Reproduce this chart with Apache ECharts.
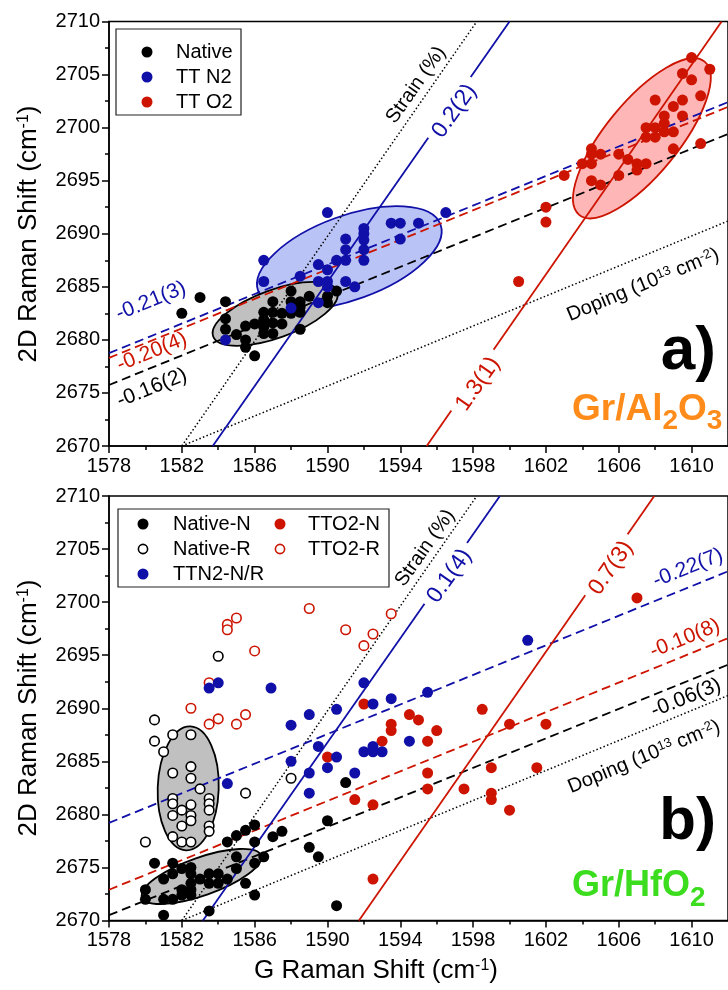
<!DOCTYPE html>
<html><head><meta charset="utf-8">
<script src="https://cdn.jsdelivr.net/npm/echarts@6/dist/echarts.min.js"></script>
<style>html,body{margin:0;padding:0;background:#fff}#c{width:728px;height:990px}</style>
</head><body><div id="c"></div>
<script>
// ---------- tick values ----------
const xMajor = [1578,1582,1586,1590,1594,1598,1602,1606,1610];
const xMinor = [1580,1584,1588,1592,1596,1600,1604,1608];
const yRange = [2670, 2710];

// ---------- panel a) Gr/Al2O3 ----------
const nativeA = [[1582.0,2682.5],[1583.0,2684.0],[1584.4,2683.6],[1584.4,2682.0],[1584.4,2681.0],[1585.0,2680.5],[1585.5,2681.3],[1585.5,2680.0],[1585.5,2679.3],[1586.0,2678.5],[1586.0,2681.5],[1586.5,2682.6],[1586.5,2681.9],[1586.5,2681.2],[1586.5,2680.6],[1587.0,2683.6],[1587.0,2682.6],[1587.0,2681.6],[1587.0,2680.6],[1587.5,2682.5],[1587.5,2681.5],[1588.0,2684.6],[1588.0,2683.6],[1588.0,2682.5],[1588.5,2683.6],[1588.5,2683.1],[1588.5,2682.6],[1588.5,2681.0],[1589.0,2684.1],[1590.0,2684.1],[1590.0,2683.5],[1590.5,2684.6]];
const ttN2A = [[1584.4,2680.0],[1586.5,2687.5],[1586.5,2685.5],[1588.0,2683.0],[1588.5,2686.0],[1589.5,2687.1],[1589.5,2685.5],[1589.5,2683.5],[1590.0,2692.0],[1590.0,2686.6],[1590.0,2685.5],[1590.0,2685.0],[1590.5,2687.5],[1591.0,2689.5],[1591.0,2688.5],[1591.0,2687.5],[1591.0,2685.5],[1591.5,2685.0],[1592.0,2690.5],[1592.0,2690.0],[1592.0,2689.4],[1592.0,2688.5],[1592.0,2687.5],[1593.5,2691.0],[1594.0,2691.0],[1594.0,2689.5],[1595.0,2691.0],[1596.5,2692.0]];
const ttO2A = [[1610.0,2706.6],[1611.0,2705.5],[1609.5,2705.1],[1610.0,2704.5],[1610.5,2703.0],[1608.0,2702.6],[1609.5,2702.6],[1609.0,2702.0],[1608.5,2701.1],[1609.5,2701.1],[1608.5,2700.4],[1607.5,2700.0],[1608.0,2700.0],[1608.5,2699.6],[1609.0,2699.6],[1607.5,2699.1],[1608.0,2699.1],[1610.5,2698.5],[1609.0,2698.0],[1604.5,2698.0],[1604.5,2697.5],[1605.0,2697.5],[1606.0,2697.5],[1606.5,2697.0],[1604.0,2696.6],[1604.5,2696.6],[1607.0,2696.6],[1607.5,2696.6],[1603.0,2695.5],[1607.0,2696.0],[1606.0,2695.5],[1604.5,2695.0],[1605.0,2694.6],[1602.0,2692.5],[1602.0,2691.1],[1600.5,2685.5]];
// straight guide / fit lines (end points)
const strainLine = [[1582,2670],[1598.2,2710]];
const dopingLine = [[1582,2670],[1612,2691.2]];
const fitNativeA = [[1578,2675.75],[1612,2699.4]];
const fitN2A = [[1578,2678.75],[1612,2702.4]];
const fitO2A = [[1578,2678.3],[1612,2701.95]];
const slopeN2A = [[1583.7,2670],[1600.0,2710]];
const slopeO2A = [[1595.45,2670],[1611.65,2710]];

// ---------- panel b) Gr/HfO2 ----------
const nativeNB = [[1580.5,2675.4],[1580.0,2672.9],[1580.0,2672.0],[1581.0,2673.9],[1581.0,2672.0],[1581.0,2670.5],[1581.5,2675.4],[1581.5,2674.4],[1581.5,2672.0],[1582.0,2674.9],[1582.0,2672.9],[1582.0,2672.4],[1582.5,2675.0],[1582.5,2674.4],[1582.5,2673.5],[1582.5,2672.9],[1582.5,2672.4],[1583.0,2673.9],[1583.5,2674.4],[1583.5,2673.5],[1583.5,2670.9],[1584.0,2674.4],[1584.0,2673.5],[1584.5,2677.4],[1584.5,2673.9],[1585.0,2678.0],[1585.0,2676.0],[1585.0,2674.9],[1585.5,2678.5],[1585.5,2673.5],[1586.0,2679.0],[1586.0,2677.4],[1586.0,2675.4],[1586.0,2672.4],[1586.5,2676.0],[1587.0,2677.9],[1587.5,2678.4],[1589.0,2676.9],[1589.5,2676.0],[1590.0,2679.4],[1590.5,2671.4],[1591.0,2683.0]];
const nativeRB = [[1580.5,2688.9],[1580.5,2686.9],[1581.0,2685.9],[1581.5,2687.5],[1582.5,2687.5],[1581.5,2683.9],[1582.5,2684.5],[1582.5,2683.4],[1583.0,2682.4],[1581.5,2681.5],[1581.5,2681.0],[1581.5,2679.9],[1582.0,2680.4],[1582.0,2678.9],[1582.5,2680.9],[1582.5,2679.9],[1582.5,2679.4],[1583.5,2681.5],[1583.5,2681.0],[1583.5,2680.4],[1583.5,2678.9],[1583.5,2678.4],[1581.5,2677.9],[1582.0,2677.4],[1582.5,2677.4],[1580.0,2677.4],[1585.5,2682.0],[1588.0,2683.4],[1584.0,2694.9]];
const ttN2B = [[1583.5,2691.9],[1584.0,2692.4],[1584.5,2682.9],[1586.9,2691.9],[1588.0,2688.4],[1588.0,2685.0],[1589.0,2689.4],[1589.0,2683.9],[1589.0,2682.0],[1589.5,2686.4],[1590.0,2684.4],[1590.5,2689.9],[1590.5,2685.4],[1591.5,2683.9],[1592.0,2692.4],[1592.0,2685.9],[1592.5,2690.4],[1592.5,2686.4],[1592.5,2685.9],[1593.0,2685.9],[1593.5,2690.9],[1594.5,2686.9],[1595.5,2691.5],[1601.0,2696.4]];
const ttO2NB = [[1590.0,2685.4],[1591.5,2681.4],[1592.0,2690.4],[1592.5,2680.9],[1592.5,2673.9],[1593.0,2686.9],[1593.5,2688.5],[1593.5,2687.9],[1594.5,2689.4],[1595.0,2688.9],[1595.5,2686.9],[1595.5,2683.9],[1595.5,2682.4],[1596.0,2687.9],[1597.5,2682.4],[1598.5,2689.9],[1599.0,2684.4],[1599.0,2682.0],[1599.0,2681.4],[1600.0,2688.5],[1600.0,2680.4],[1601.5,2684.4],[1602.0,2688.5],[1607.0,2700.4]];
const ttO2RB = [[1582.5,2690.0],[1583.5,2692.4],[1583.5,2688.5],[1584.0,2689.0],[1584.5,2697.9],[1584.5,2697.4],[1585.0,2698.5],[1585.0,2688.5],[1585.5,2689.4],[1586.0,2695.4],[1589.0,2699.4],[1591.0,2697.4],[1592.0,2695.9],[1592.5,2697.0],[1593.5,2698.9]];
const fitNativeB = [[1578,2670.5],[1612,2694.1]];
const fitN2B = [[1578,2679.2],[1612,2702.9]];
const fitO2B = [[1578,2672.9],[1612,2696.6]];
const slopeN2B = [[1583.16,2670],[1599.47,2710]];
const slopeO2B = [[1591.73,2670],[1607.95,2710]];

// ellipse centres (data units)
const ellCentersA = {gray:[1587.13,2682.45], blue:[1591.2,2687.74], red:[1607.27,2699.0]};
const ellCentersB = {vert:[1582.35,2682.45], tilt:[1583.08,2674.15]};

// ---------- styles ----------
const FONT = '"Liberation Sans", Arial, sans-serif';
const BLK = '#000000', BLU = '#1010a8', RED = '#cc1400';

const chart = echarts.init(document.getElementById('c'), null, {renderer:'canvas'});
const plain = v => String(v);

function xAxes(g, showLabel) {
  return [
    {gridIndex:g, type:'value', min:1578, max:1612, interval:2, position:'bottom',
     axisLine:{show:true, onZero:false, lineStyle:{color:BLK, width:1.5}},
     axisTick:{show:true, customValues:xMajor, length:7, inside:false, lineStyle:{color:BLK, width:1.5}},
     axisLabel:{show:showLabel, customValues:xMajor, color:BLK, fontSize:20, fontFamily:FONT, margin:10, formatter:plain},
     splitLine:{show:false}},
    {gridIndex:g, type:'value', min:1578, max:1612, interval:2, position:'bottom',
     axisLine:{show:false, onZero:false},
     axisTick:{show:true, customValues:xMinor, length:4, inside:false, lineStyle:{color:BLK, width:1.5}},
     axisLabel:{show:false}, splitLine:{show:false}}
  ];
}
function yAxis(g) {
  return {gridIndex:g, type:'value', min:yRange[0], max:yRange[1], interval:5,
    axisLine:{show:true, onZero:false, lineStyle:{color:BLK, width:1.5}},
    axisTick:{show:true, length:7, lineStyle:{color:BLK, width:1.5}},
    minorTick:{show:true, splitNumber:2, length:4, lineStyle:{color:BLK, width:1.5}},
    axisLabel:{color:BLK, fontSize:20, fontFamily:FONT, margin:9, formatter:plain},
    splitLine:{show:false}, minorSplitLine:{show:false}};
}
function dots(data, color, xi, yi, open) {
  return {type:'scatter', xAxisIndex:xi, yAxisIndex:yi, data, symbol:'circle',
    symbolSize: open ? 9.5 : 11, silent:true, z:5,
    itemStyle: open ? {color:'#ffffff', borderColor:color, borderWidth:1.6, opacity:1}
                    : {color:color, borderWidth:0, opacity:1}};
}
function seg(data, color, type, width, xi, yi) {
  return {type:'line', xAxisIndex:xi, yAxisIndex:yi, data, symbol:'none', showSymbol:false,
    lineStyle:{color, width, type}, silent:true, z:3, clip:true};
}
const DASH = [9,5], DOT = [1.5,2.3];

const option = {
  animation:false,
  grid:[
    {left:109, top:21.5, width:626, height:424.5, show:true, borderColor:BLK, borderWidth:1.5, backgroundColor:'transparent'},
    {left:109, top:496, width:626, height:424.5, show:true, borderColor:BLK, borderWidth:1.5, backgroundColor:'transparent'}
  ],
  xAxis:[...xAxes(0,true), ...xAxes(1,true)],
  yAxis:[yAxis(0), yAxis(1)],
  series:[
    seg(strainLine, BLK, DOT, 1.5, 0, 0),
    seg(dopingLine, BLK, DOT, 1.5, 0, 0),
    seg(fitNativeA, BLK, DASH, 1.8, 0, 0),
    seg(fitO2A, RED, DASH, 1.8, 0, 0),
    seg(fitN2A, BLU, DASH, 1.8, 0, 0),
    seg(slopeN2A, BLU, 'solid', 1.8, 0, 0),
    seg(slopeO2A, RED, 'solid', 1.8, 0, 0),
    dots(nativeA, BLK, 0, 0, false),
    dots(ttN2A, BLU, 0, 0, false),
    dots(ttO2A, RED, 0, 0, false),

    seg(strainLine, BLK, DOT, 1.5, 2, 1),
    seg(dopingLine, BLK, DOT, 1.5, 2, 1),
    seg(fitNativeB, BLK, DASH, 1.8, 2, 1),
    seg(fitO2B, RED, DASH, 1.8, 2, 1),
    seg(fitN2B, BLU, DASH, 1.8, 2, 1),
    seg(slopeN2B, BLU, 'solid', 1.8, 2, 1),
    seg(slopeO2B, RED, 'solid', 1.8, 2, 1),
    dots(nativeNB, BLK, 2, 1, false),
    dots(nativeRB, BLK, 2, 1, true),
    dots(ttO2RB, RED, 2, 1, true),
    dots(ttO2NB, RED, 2, 1, false),
    dots(ttN2B, BLU, 2, 1, false)
  ]
};
chart.setOption(option);

// ---------- graphics (ellipses, labels, legends) ----------
const PA = p => chart.convertToPixel({xAxisIndex:0, yAxisIndex:0}, p);
const PB = p => chart.convertToPixel({xAxisIndex:2, yAxisIndex:1}, p);
const rad = d => d * Math.PI / 180;
function ell(c, rx, ry, rot, fill, stroke) {
  return {type:'ellipse', x:c[0], y:c[1], rotation:rad(rot), shape:{cx:0, cy:0, rx, ry},
    style:{fill, stroke, lineWidth:1.8}, z:1, silent:true};
}
function txt(x, y, text, opts) {
  opts = opts || {};
  return {type:'text', x, y, rotation:rad(opts.rot || 0), z:opts.z || 50, silent:true,
    style:Object.assign({text, fill:opts.color || BLK, fontSize:opts.size || 20, fontFamily:FONT,
      fontWeight:opts.weight || 'normal', align:opts.align || 'center', verticalAlign:opts.va || 'middle'},
      opts.bg ? {backgroundColor:'#ffffff', padding:[0,7]} : {}, opts.rich ? {rich:opts.rich} : {})};
}
function dot(x, y, color, open) {
  return {type:'circle', shape:{cx:x, cy:y, r: open ? 4.6 : 5.5}, z:60, silent:true,
    style: open ? {fill:'#fff', stroke:color, lineWidth:1.6} : {fill:color}};
}
const supRich = s => ({sup:{fontSize:s, verticalAlign:'top', fontFamily:FONT, fill:BLK}});

const g = [];
// ellipses top
g.push(ell(PA(ellCentersA.blue), 97, 42, 20, '#bac3f6', BLU));
g.push(ell(PA(ellCentersA.gray), 66, 24, 20, '#c0c0c0', BLK));
g.push(ell(PA(ellCentersA.red), 99, 36.5, 50.7, '#ffb6b6', RED));
// ellipses bottom
g.push(ell(PB(ellCentersB.vert), 30.5, 62, -2, '#c0c0c0', BLK));
g.push(ell(PB(ellCentersB.tilt), 63, 19, 19.4, '#c0c0c0', BLK));

// panel a labels
g.push(txt(416, 85, 'Strain (%)', {rot:55, size:20}));
g.push(txt(643, 285, 'Doping (10{sup|13} cm{sup|-2})', {rot:22.5, size:20, rich:supRich(13)}));
g.push(txt(454.5, 111, '0.2(2)', {rot:54.7, size:23, color:BLU, bg:true}));
g.push(txt(478, 384, '1.3(1)', {rot:55, size:23, color:RED, bg:true}));
g.push(txt(151, 301, '-0.21(3)', {rot:22, size:21, color:BLU}));
g.push(txt(152, 352, '-0.20(4)', {rot:22, size:21, color:RED}));
g.push(txt(152, 388, '-0.16(2)', {rot:22, size:21, color:BLK}));
g.push(txt(716, 352, 'a)', {size:62, weight:'bold', align:'right'}));
g.push(txt(572, 411, '{b|Gr/Al}{s|2}{b|O}{s|3}', {align:'left', color:'#ff8c1a',
  rich:{b:{fontSize:37, fontWeight:'bold', fontFamily:FONT, fill:'#ff8c1a', lineHeight:40, verticalAlign:'top'},
        s:{fontSize:28, fontWeight:'bold', fontFamily:FONT, fill:'#ff8c1a', lineHeight:28, verticalAlign:'top', padding:[16,0,0,0]}}}));

// panel b labels
g.push(txt(425, 548, 'Strain (%)', {rot:55, size:20}));
g.push(txt(644, 757, 'Doping (10{sup|13} cm{sup|-2})', {rot:22.5, size:20, rich:supRich(13)}));
g.push(txt(449.5, 576, '0.1(4)', {rot:54.8, size:23, color:BLU, bg:true}));
g.push(txt(611, 568, '0.7(3)', {rot:54.9, size:23, color:RED, bg:true}));
g.push(txt(688, 568, '-0.22(7)', {rot:22, size:21, color:BLU}));
g.push(txt(685, 638.5, '-0.10(8)', {rot:22, size:21, color:RED}));
g.push(txt(686, 698, '-0.06(3)', {rot:22, size:21, color:BLK}));
g.push(txt(716, 822, 'b)', {size:60, weight:'bold', align:'right'}));
g.push(txt(572, 888, '{b|Gr/HfO}{s|2}', {align:'left', color:'#3cdc1e',
  rich:{b:{fontSize:36, fontWeight:'bold', fontFamily:FONT, fill:'#3cdc1e', lineHeight:40, verticalAlign:'top'},
        s:{fontSize:28, fontWeight:'bold', fontFamily:FONT, fill:'#3cdc1e', lineHeight:28, verticalAlign:'top', padding:[16,0,0,0]}}}));

// axis titles
const yTitle = '2D Raman Shift (cm{sup|-1})';
g.push(txt(29, 234, yTitle, {rot:90, size:26, rich:supRich(16)}));
g.push(txt(29, 708, yTitle, {rot:90, size:26, rich:supRich(16)}));
g.push(txt(376, 971, 'G Raman Shift (cm{sup|-1})', {size:26, rich:supRich(16)}));

// legend a
g.push({type:'rect', shape:{x:116, y:29, width:125, height:86}, style:{fill:'#fff', stroke:'#222', lineWidth:1.2}, z:55, silent:true});
g.push(dot(147, 52, BLK)); g.push(txt(176, 52, 'Native', {align:'left', z:60}));
g.push(dot(147, 77, BLU)); g.push(txt(176, 77, 'TT N2', {align:'left', z:60}));
g.push(dot(147, 102, RED)); g.push(txt(176, 102, 'TT O2', {align:'left', z:60}));
// legend b
g.push({type:'rect', shape:{x:118, y:509, width:271, height:78}, style:{fill:'#fff', stroke:'#222', lineWidth:1.2}, z:55, silent:true});
g.push(dot(143, 524, BLK)); g.push(txt(173, 524, 'Native-N', {align:'left', z:60}));
g.push(dot(143, 549, BLK, true)); g.push(txt(173, 549, 'Native-R', {align:'left', z:60}));
g.push(dot(143, 574, BLU)); g.push(txt(173, 574, 'TTN2-N/R', {align:'left', z:60}));
g.push(dot(280, 524, RED)); g.push(txt(308, 524, 'TTO2-N', {align:'left', z:60}));
g.push(dot(280, 549, RED, true)); g.push(txt(308, 549, 'TTO2-R', {align:'left', z:60}));

chart.setOption({graphic:{elements:g}});
</script></body></html>
